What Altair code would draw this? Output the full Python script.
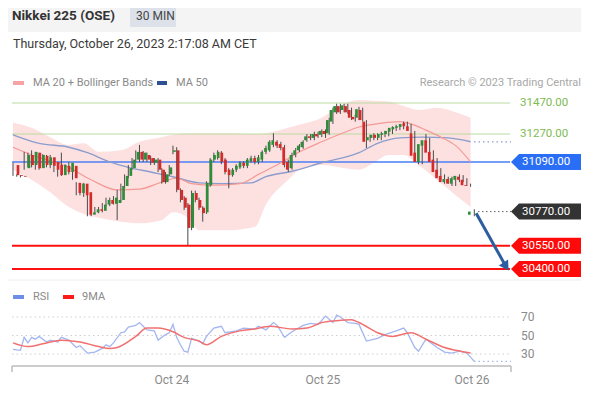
import altair as alt
import pandas as pd

# ---------------- data ----------------
opens = [31070,31005,31000,31050,31135,31070,31150,31050,31130,31070,
         31120,31090,31070,31005,31065,31025,31065,30955,30890,30950,
         30895,30750,30765,30785,30775,30815,30845,30820,30825,30845,
         30935,31000,31050,31105,31155,31105,31135,31115,31085,31105,
         31040,30960,31010,31155,31165,30910,30860,30815,30665,30890,
         30845,30795,30765,30940,31105,31115,31150,31105,31040,31005,
         31040,31055,31085,31065,31095,31115,31090,31105,31155,31165,
         31200,31220,31205,31185,31090,31050,31135,31165,31185,31230,
         31255,31245,31270,31265,31290,31275,31350,31410,31450,31425,
         31450,31425,31380,31375,31425,31350,31230,31245,31265,31245,
         31265,31270,31285,31300,31310,31315,31340,31320,31275,31150,
         31090,31195,31230,31155,31105,31040,31000,30960,30980,30950,
         30975,30995,30975,30940,30750]
closes = [31005,31000,30995,31135,31070,31155,31050,31135,31070,31120,
          31065,31040,31005,31070,31025,31085,30985,30890,30950,30875,
          30750,30765,30785,30775,30815,30845,30820,30860,30845,30935,
          31000,31050,31105,31155,31105,31150,31105,31085,31105,31040,
          30960,31010,31055,31165,30910,30845,30795,30665,30890,30845,
          30795,30760,30955,31105,31135,31155,31090,31025,31005,31040,
          31065,31085,31065,31105,31115,31090,31120,31155,31180,31220,
          31230,31195,31180,31070,31040,31135,31165,31195,31220,31255,
          31245,31270,31255,31290,31270,31360,31425,31450,31410,31455,
          31410,31375,31365,31430,31360,31220,31250,31265,31245,31270,
          31275,31290,31310,31315,31320,31335,31320,31290,31130,31090,
          31205,31230,31150,31090,31025,30985,30960,30980,30950,30985,
          31000,30975,30940,30935,30770]
highs = [31085,31010,31005,31155,31150,31165,31155,31150,31140,31135,
         31135,31105,31085,31150,31075,31090,31070,30960,30955,30955,
         30910,30780,30800,30800,30825,30860,30860,30870,30910,30950,
         31010,31070,31115,31165,31200,31160,31150,31130,31115,31115,
         31050,31025,31070,31195,31185,30920,30870,30825,30905,30905,
         30860,30805,30965,31115,31150,31165,31160,31115,31050,31050,
         31075,31095,31095,31115,31130,31130,31135,31165,31195,31230,
         31275,31230,31220,31200,31105,31150,31180,31205,31230,31270,
         31270,31285,31285,31300,31300,31375,31440,31465,31465,31465,
         31465,31440,31395,31445,31440,31360,31265,31275,31275,31285,
         31290,31300,31320,31330,31335,31350,31350,31335,31290,31160,
         31220,31270,31245,31165,31115,31050,31010,30995,30995,31000,
         31010,31005,30985,30950,30785]
lows = [31000,30995,30990,31040,31055,31055,31040,31040,31055,31055,
        31050,31025,30995,31000,31010,31010,30975,30875,30875,30865,
        30740,30740,30760,30760,30765,30805,30805,30815,30715,30830,
        30920,30985,31040,31090,31090,31090,31090,31070,31070,31025,
        30950,30950,31000,31140,30895,30830,30780,30555,30650,30830,
        30780,30705,30755,30930,31090,31105,31075,31010,30920,30995,
        31025,31045,31050,31050,31085,31075,31075,31090,31140,31155,
        31185,31180,31165,31055,31025,31040,31120,31155,31175,31220,
        31230,31230,31245,31250,31245,31265,31335,31400,31400,31410,
        31400,31360,31350,31360,31350,31180,31220,31230,31230,31230,
        31250,31255,31270,31290,31295,31300,31310,31275,31115,31075,
        31075,31180,31135,31075,31010,30975,30950,30950,30935,30935,
        30960,30960,30935,30930,30740]

ma20_idx = [0,5,15,21,28,34,40,44,48,54,61,66,72,77,83,88,93,99,104,107,111,115,119,123]
ma20_val = [31185,31135,31055,30975,30910,30915,30960,30985,30950,30940,30950,31010,
            31085,31155,31220,31270,31315,31340,31350,31335,31295,31250,31195,31090]
ma50_idx = [0,7,15,20,26,31,37,43,50,56,64,68,75,83,93,98,104,110,117,123]
ma50_val = [31265,31210,31185,31150,31090,31055,31025,30995,30955,30950,30955,30995,
            31030,31085,31150,31210,31245,31250,31245,31220]
bb_idx = [0,5,10,15,19,23,29,34,40,43,47,50,58,65,68,74,77,83,88,93,97,101,105,109,114,119,123]
bb_upper = [31345,31310,31250,31200,31210,31155,31165,31220,31250,31265,31275,31275,31275,
            31270,31275,31310,31330,31375,31455,31490,31485,31480,31450,31425,31440,31410,31375]
bb_lower = [31040,30975,30895,30800,30755,30730,30705,30695,30715,30765,30730,30650,30650,
            30670,30815,30975,31040,31070,31055,31040,31085,31135,31135,31070,30975,30875,30800]

rsi_idx = [0,2,3,4,5,6,7,9,10,12,13,15,17,18,19,20,22,24,25,26,27,29,30,31,33,34,35,36,38,39,
           41,42,43,44,45,46,47,48,50,51,52,54,56,57,60,62,65,66,68,70,71,73,75,78,80,82,84,86,
           87,88,90,92,93,95,98,100,103,105,106,108,109,111,114,116,118,120,122,124]
rsi_val = [35,34,48,42,48,46,49,43,45,43,48,45,37,39,35,31,32,36,40,38,42,53,54,59,61,64,60,56,55,45,
           51,53,62,48,40,33,32,47,44,41,49,58,60,53,55,58,57,60,56,64,61,48,54,61,63,62,71,64,
           72,70,64,63,62,44,47,51,55,58,53,37,33,46,37,32,31,33,31,22]
rsima_idx = [0,4,8,13,18,23,26,28,33,36,39,43,46,50,52,56,61,65,69,75,79,83,87,91,93,98,102,107,111,116,119,123]
rsima_val = [42,38,41,45,43,38,36,37,49,58,58,54,48,44,40,49,55,57,60,57,58,64,66,67,64,53,49,53,46,37,34,31]

levels = [31470, 31270, 31090, 30550, 30400]
last_price = 30770
ma50_last = 31220
rsi_last = 22
rsi_levels = [70, 50, 30]
arrow_idx = [124.5, 132.3]
arrow_val = [30760, 30425]
date_ticks = [42.7, 83.3, 123.4]
date_labels = ["Oct 24", "Oct 25", "Oct 26"]

title = "Nikkei 225 (OSE)"
interval = "30 MIN"
stamp = "Thursday, October 26, 2023 2:17:08 AM CET"
credit = "Research \u00a9 2023 Trading Central"

# ---------------- layout ----------------
W, H = 573, 380
FONT = "Roboto"
PX = alt.Scale(domain=[0, 124], range=[5, 466.3], zero=False, nice=False)
PY = alt.Scale(domain=[30400, 31470], range=[261, 95], zero=False, nice=False)
RY = alt.Scale(domain=[30, 70], range=[346, 309], zero=False, nice=False)
one = pd.DataFrame({"k": [0]})


def X(f):
    return alt.X(f, type="quantitative", scale=PX, axis=None)


def Y(f):
    return alt.Y(f, type="quantitative", scale=PY, axis=None)


def YR(f):
    return alt.Y(f, type="quantitative", scale=RY, axis=None)


def rect(x1, x2, y1, y2, color):
    return alt.Chart(one).mark_rect(color=color).encode(
        x=alt.value(x1), x2=alt.value(x2), y=alt.value(y1), y2=alt.value(y2))


def hline(x1, x2, y, color, w=1):
    return alt.Chart(one).mark_rule(color=color, strokeWidth=w).encode(
        x=alt.value(x1), x2=alt.value(x2), y=alt.value(y))


def label(text, x, y, size=11, color="#888", weight="normal", align="left"):
    return alt.Chart(one).mark_text(text=text, font=FONT, fontSize=size, color=color,
                                    fontWeight=weight, align=align, baseline="middle").encode(
        x=alt.value(x), y=alt.value(y))


candles = pd.DataFrame({"i": list(range(len(opens))), "o": opens, "c": closes, "h": highs, "l": lows})
candles["col"] = ["#2f8c3a" if c >= o else "#d42a2a" for o, c in zip(opens, closes)]
ma20 = pd.DataFrame({"i": ma20_idx, "v": ma20_val})
ma50 = pd.DataFrame({"i": ma50_idx, "v": ma50_val})
bb = pd.DataFrame({"i": bb_idx, "u": bb_upper, "l": bb_lower})
rsi = pd.DataFrame({"i": rsi_idx, "v": rsi_val})
rsima = pd.DataFrame({"i": rsima_idx, "v": rsima_val})
lv = pd.DataFrame({"p": levels,
                   "col": ["#b9dca0", "#b9dca0", "#4a7ef5", "#ff1010", "#ff1010"],
                   "w": [1, 1, 1.6, 2, 2]})
green_lab = pd.DataFrame({"p": levels[:2], "lab": [f"{v:.2f}" for v in levels[:2]]})
tags = pd.DataFrame({"p": [levels[2], last_price, levels[3], levels[4]],
                     "fill": ["#2a6ef6", "#333333", "#ff0a0a", "#ff0a0a"]})
tags["lab"] = [f"{v:.2f}" for v in tags["p"]]
arrow = pd.DataFrame({"i": arrow_idx, "p": arrow_val})
rl = pd.DataFrame({"v": rsi_levels, "lab": [str(v) for v in rsi_levels]})
dt = pd.DataFrame({"t": date_ticks, "lab": date_labels})

TAG = "M-1,0 L-0.79,-0.21 L1,-0.21 L1,0.21 L-0.79,0.21 Z"

layers = [
    # header
    rect(0, W, 0, 24, "#f4f4f4"),
    rect(122, 168, 0, 19, "#dde2ea"),
    label(title, 4, 8, size=13.5, color="#333", weight="bold"),
    label(interval, 128, 8, size=12, color="#444"),
    label(stamp, 5, 36, size=12.5, color="#3a3a3a"),
    # legend
    rect(5, 16, 73, 77, "#f7a3a3"),
    label("MA 20 + Bollinger Bands", 25, 75, color="#8a8a8a"),
    rect(149, 159, 73, 77, "#2d5192"),
    label("MA 50", 168, 75, color="#8a8a8a"),
    label(credit, 573, 75, color="#a8a8a8", align="right"),
    # Bollinger band
    alt.Chart(bb).mark_area(color="#fde1e1", interpolate="monotone").encode(
        x=X("i"), y=Y("u"), y2="l:Q"),
    # levels
    alt.Chart(lv).mark_rule().encode(
        x=alt.value(4), x2=alt.value(502), y=Y("p"),
        color=alt.Color("col:N", scale=None), strokeWidth=alt.StrokeWidth("w:Q", scale=None)),
    alt.Chart(green_lab).mark_text(font=FONT, fontSize=11.5, color="#7dba52", align="left",
                                   baseline="middle").encode(x=alt.value(512), y=Y("p"), text="lab:N"),
    # moving averages
    alt.Chart(ma50).mark_line(color="#8b9dcc", strokeWidth=1.4, interpolate="monotone").encode(
        x=X("i"), y=Y("v")),
    alt.Chart(ma20).mark_line(color="#f49a95", strokeWidth=1.2, interpolate="monotone").encode(
        x=X("i"), y=Y("v")),
    # candles
    alt.Chart(candles).mark_rule(color="#4a4a4a", strokeWidth=1).encode(
        x=X("i"), y=Y("l"), y2="h:Q"),
    alt.Chart(candles).mark_bar(size=2.7).encode(
        x=X("i"), y=Y("o"), y2="c:Q", color=alt.Color("col:N", scale=None)),
    # dotted continuations
    alt.Chart(pd.DataFrame({"p": [last_price]})).mark_rule(
        color="#666", strokeWidth=1, strokeDash=[1.5, 2.5]).encode(
        x=alt.value(470), x2=alt.value(503), y=Y("p")),
    alt.Chart(pd.DataFrame({"p": [ma50_last]})).mark_rule(
        color="#8b9dcc", strokeWidth=1.2, strokeDash=[1.5, 3]).encode(
        x=alt.value(466), x2=alt.value(503), y=Y("p")),
    # tags
    alt.Chart(tags).mark_point(shape=TAG, filled=True, size=5776, opacity=1, strokeWidth=0).encode(
        x=alt.value(541), y=Y("p"), color=alt.Color("fill:N", scale=None)),
    alt.Chart(tags).mark_text(font=FONT, fontSize=11.5, color="white", align="left",
                              baseline="middle").encode(x=alt.value(514), y=Y("p"), text="lab:N"),
    # projection arrow
    alt.Chart(arrow).mark_line(color="#2c5d9f", strokeWidth=3).encode(x=X("i"), y=Y("p")),
    alt.Chart(arrow.tail(1)).mark_point(shape="triangle", filled=True, size=120, angle=147,
                                        color="#2c5d9f", opacity=1).encode(x=X("i"), y=Y("p")),
    # RSI panel
    hline(0, W, 272, "#eeeeee", 1),
    rect(5, 16, 287, 291, "#6f8fe6"),
    label("RSI", 25, 289, color="#8a8a8a"),
    rect(55, 66, 287, 291, "#ff1a1a"),
    label("9MA", 74, 289, color="#8a8a8a"),
    alt.Chart(rl).mark_rule(color="#cfcfcf", strokeWidth=1, strokeDash=[1.5, 3]).encode(
        x=alt.value(4), x2=alt.value(502), y=YR("v")),
    alt.Chart(rl).mark_text(font=FONT, fontSize=12, color="#8a8a8a", align="left",
                            baseline="middle").encode(x=alt.value(513), y=YR("v"), text="lab:N"),
    alt.Chart(rsi).mark_line(color="#a3b6f0", strokeWidth=1.3).encode(x=X("i"), y=YR("v")),
    alt.Chart(rsima).mark_line(color="#f27070", strokeWidth=1.5, interpolate="monotone").encode(
        x=X("i"), y=YR("v")),
    alt.Chart(pd.DataFrame({"v": [rsi_last]})).mark_rule(
        color="#a3b6f0", strokeWidth=1.2, strokeDash=[1.5, 3]).encode(
        x=alt.value(466), x2=alt.value(503), y=YR("v")),
    # x axis
    hline(4, 503, 358, "#bdbdbd", 1.5),
    alt.Chart(one).mark_rule(color="#bdbdbd", strokeWidth=1.5).encode(
        x=alt.value(4), y=alt.value(358), y2=alt.value(364)),
    alt.Chart(one).mark_rule(color="#bdbdbd", strokeWidth=1.5).encode(
        x=alt.value(503), y=alt.value(358), y2=alt.value(364)),
    alt.Chart(dt).mark_text(font=FONT, fontSize=12, color="#8a8a8a", align="center",
                            baseline="middle").encode(x=X("t"), y=alt.value(372), text="lab:N"),
]

chart = alt.layer(*layers).resolve_scale(
    x="independent", y="independent", color="independent", strokeWidth="independent"
).properties(
    width=W, height=H, padding=0, autosize=alt.AutoSizeParams(type="none")
).configure_view(stroke="transparent")

chart.save("out.html", embed_options={"renderer": "svg", "actions": False})
